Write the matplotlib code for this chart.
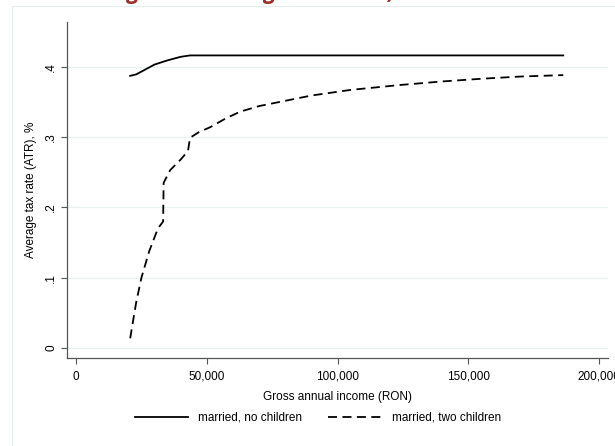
import matplotlib
matplotlib.use('Agg')
import matplotlib.pyplot as plt
from matplotlib.patches import Rectangle
from matplotlib.ticker import FuncFormatter

plt.rcParams['font.family'] = ['Liberation Sans', 'DejaVu Sans']
plt.rcParams['font.size'] = 8.5

# gross annual income (RON) and average tax rate
inc_single = [20700, 23000, 26000, 30000, 35000, 40000, 43600, 186300]
atr_single = [0.387, 0.389, 0.395, 0.403, 0.409, 0.414, 0.416, 0.416]

inc_kids = [20700, 23000, 25000, 28000, 31300, 33300, 33500, 36000, 40000,
            42800, 43600, 47000, 51300, 57000, 62700, 70000, 78000, 90000,
            105000, 124000, 140000, 155700, 170000, 186300]
atr_kids = [0.014, 0.065, 0.100, 0.138, 0.170, 0.180, 0.235, 0.253, 0.268,
            0.280, 0.299, 0.307, 0.314, 0.326, 0.336, 0.344, 0.350, 0.359,
            0.367, 0.374, 0.379, 0.383, 0.386, 0.388]

xticks = [0, 50000, 100000, 150000, 200000]
yticks = [0, 0.1, 0.2, 0.3, 0.4]
ytick_labels = ['0', '.1', '.2', '.3', '.4']

fig = plt.figure(figsize=(6.15, 4.46), dpi=100)
ax = fig.add_axes([0.109, 0.197, 0.880, 0.754])

# faint graph-region outline
fig.patches.append(Rectangle((12 / 615, -0.01), 1.0, 1 - 6 / 446 + 0.01,
                             transform=fig.transFigure, fill=False,
                             edgecolor='#e3eded', lw=0.8))

ax.plot(inc_single, atr_single, color='black', lw=1.3, label='married, no children')
ax.plot(inc_kids, atr_kids, color='black', lw=1.3, dashes=(5, 3),
        label='married, two children')

ax.set_xlim(-3440, 203500)
ax.set_ylim(-0.0142, 0.4637)
ax.set_xticks(xticks)
ax.xaxis.set_major_formatter(FuncFormatter(lambda v, p: f'{int(v):,}'))
ax.set_yticks(yticks)
ax.set_yticklabels(ytick_labels, rotation=90, va='center')
ax.grid(axis='y', color='#eaf2f3', lw=0.9)
ax.set_axisbelow(True)

for s in ['top', 'right']:
    ax.spines[s].set_visible(False)
for s in ['left', 'bottom']:
    ax.spines[s].set_color('#555555')
    ax.spines[s].set_linewidth(0.9)
ax.tick_params(direction='out', length=4, width=0.8, color='#555555', pad=5)
ax.tick_params(axis='y', pad=3)

ax.set_xlabel('Gross annual income (RON)', labelpad=6)
ax.set_ylabel('Average tax rate (ATR), %')
ax.yaxis.set_label_coords(-0.055, 0.5)

fig.legend(loc='center', bbox_to_anchor=(0.517, 1 - 418 / 446), ncol=2,
           frameon=False, handlelength=4.5, handletextpad=0.85,
           columnspacing=2.2)

# title mostly cut off at the top edge of the page
fig.text(0.49, 1 + 1.5 / 446, 'Figure 3: Average tax rates, Romania',
         ha='center', va='baseline', color='#9e2f2c', fontsize=16,
         fontweight='bold', fontstyle='italic', family=['Open Sans', 'DejaVu Sans'])

fig.savefig('out.png', dpi=100)
